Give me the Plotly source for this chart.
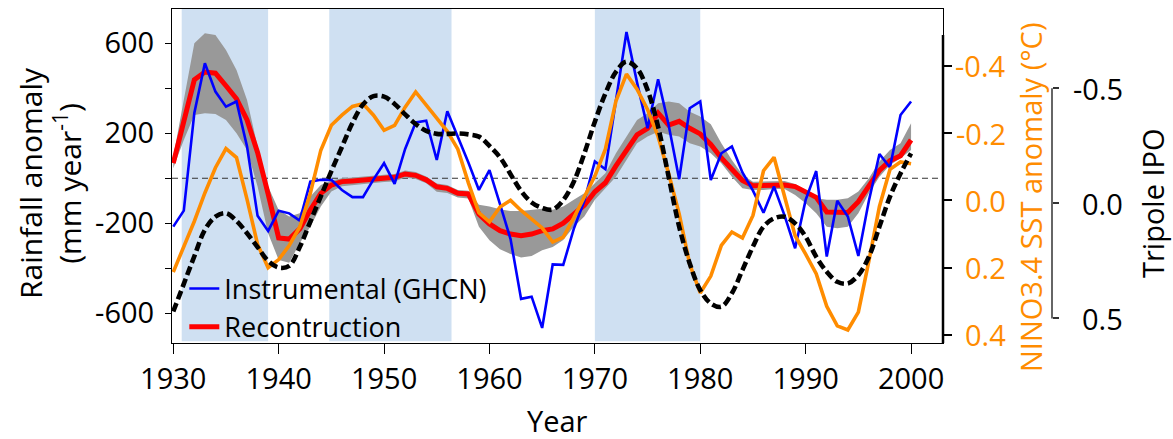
import plotly.graph_objects as go

years = list(range(1930, 2001))

instrumental = [-215, -144, 290, 511, 385, 318, 341, 141, -167, -234,
                -144, -156, -188, -15, -7, -7, -52, -84, -84, -5,
                67, -25, 130, 248, 256, 81, 298, 185, 70, -52,
                36, -115, -270, -536, -526, -665, -383, -385, -225, -100,
                75, 40, 335, 650, 426, 222, 440, 237, -4, 311,
                341, -8, 111, 141, 26, -55, -153, -37, -166, -311,
                -96, 32, -348, -100, -170, -345, -100, 108, 48, 281,
                341]

reconstruction = [67, 255, 438, 472, 467, 411, 353, 259, 115, -70,
                  -265, -270, -225, -141, -67, -30, -15, -12, -7, -3,
                  0, 4, 19, 13, -7, -38, -45, -67, -70, -160,
                  -203, -233, -248, -255, -248, -233, -225, -200, -160, -120,
                  -60, -20, 55, 120, 193, 222, 290, 236, 253, 222,
                  197, 150, 90, 40, -10, -33, -33, -30, -30, -37,
                  -60, -85, -150, -152, -152, -104, -33, 35, 78, 100,
                  170]

recon_upper = [96, 348, 600, 644, 637, 570, 481, 348, 141, -37,
               -141, -170, -156, -81, -30, -10, 0, 3, 8, 12,
               15, 19, 34, 28, 8, -23, -30, -52, -55, -118,
               -125, -138, -146, -146, -141, -135, -140, -126, -96, -67,
               -22, 22, 111, 185, 259, 289, 333, 341, 333, 296,
               274, 240, 156, 81, 15, -15, -15, -12, -12, -25,
               -52, -89, -96, -96, -89, -59, 0, 74, 126, 156,
               244]

recon_lower = [44, 170, 281, 289, 286, 259, 200, 126, -37, -244,
               -363, -375, -289, -215, -126, -59, -35, -30, -25, -20,
               -17, -14, 3, -3, -22, -60, -65, -85, -90, -215,
               -275, -315, -337, -352, -345, -320, -305, -274, -215, -170,
               -96, -44, 7, 81, 156, 185, 207, 193, 185, 156,
               141, 111, 67, 7, -44, -52, -52, -48, -48, -74,
               -111, -156, -215, -222, -215, -156, -67, 7, 59, 89,
               126]

nino34 = [0.213, 0.139, 0.062, -0.022, -0.097, -0.154, -0.127, -0.003, 0.131, 0.200,
          0.176, 0.134, 0.079, -0.020, -0.149, -0.223, -0.253, -0.279, -0.287, -0.253,
          -0.208, -0.223, -0.277, -0.322, -0.282, -0.243, -0.205, -0.152, -0.052, 0.037,
          0.064, 0.020, 0.000, 0.030, 0.055, 0.082, 0.124, 0.109, 0.052, -0.008,
          -0.072, -0.152, -0.295, -0.375, -0.330, -0.270, -0.190, -0.080, 0.040, 0.190,
          0.275, 0.225, 0.134, 0.094, 0.112, 0.045, -0.088, -0.128, -0.010, 0.105,
          0.160, 0.218, 0.315, 0.373, 0.385, 0.332, 0.180, 0.018, -0.092, -0.114,
          -0.109]

tripole_ipo = [0.470, 0.350, 0.230, 0.115, 0.058, 0.043, 0.076, 0.130, 0.190, 0.250,
               0.279, 0.272, 0.190, 0.080, -0.030, -0.140, -0.245, -0.350, -0.430, -0.466,
               -0.464, -0.432, -0.387, -0.345, -0.315, -0.302, -0.302, -0.304, -0.300, -0.290,
               -0.250, -0.200, -0.127, -0.054, -0.004, 0.020, 0.027, -0.014, -0.094, -0.217,
               -0.355, -0.478, -0.572, -0.616, -0.587, -0.493, -0.333, -0.116, 0.101, 0.261,
               0.377, 0.435, 0.449, 0.391, 0.290, 0.188, 0.101, 0.065, 0.058, 0.087,
               0.145, 0.232, 0.297, 0.341, 0.348, 0.312, 0.232, 0.101, -0.029, -0.130,
               -0.217]

shaded_periods = [(1930.8, 1939.0), (1944.8, 1956.4), (1970.0, 1980.0)]

rain_ticks = [-600, -200, 200, 600]
rain_ticktext = ["-600", "-200", "200", "600"]
rain_minor_ticks = [-400, 0, 400]
nino_ticks = [-0.4, -0.2, 0.0, 0.2, 0.4]
ipo_ticks = [-0.5, 0.0, 0.5]
year_ticks = [1930, 1940, 1950, 1960, 1970, 1980, 1990, 2000]

FONT = "Open Sans"
ORANGE = "#FF8C00"
FS = 29

fig = go.Figure()

fig.add_trace(go.Scatter(x=years, y=recon_lower, mode="lines", line=dict(width=0, color="#999999"),
                         showlegend=False, hoverinfo="skip"))
fig.add_trace(go.Scatter(x=years, y=recon_upper, mode="lines", line=dict(width=0, color="#999999"),
                         fill="tonexty", fillcolor="#999999", showlegend=False, hoverinfo="skip"))
fig.add_trace(go.Scatter(x=years, y=reconstruction, mode="lines", name="Recontruction",
                         line=dict(color="#FF0000", width=5), legendrank=2))
fig.add_trace(go.Scatter(x=years, y=instrumental, mode="lines", name="Instrumental (GHCN)",
                         line=dict(color="#0000FF", width=2.6), legendrank=1))
fig.add_trace(go.Scatter(x=years, y=nino34, mode="lines", yaxis="y2", showlegend=False,
                         line=dict(color=ORANGE, width=3.6)))
fig.add_trace(go.Scatter(x=years, y=tripole_ipo, mode="lines", yaxis="y3", showlegend=False,
                         line=dict(color="#000000", width=4.6, dash="9px,4px", shape="spline",
                                   smoothing=1.0)))

shapes = []
for a, b in shaded_periods:
    shapes.append(dict(type="rect", xref="x", yref="paper", x0=a, x1=b, y0=0.005, y1=1,
                       fillcolor="#CFE0F2", line=dict(width=0), layer="below"))
shapes.append(dict(type="line", xref="x domain", yref="y", x0=0, x1=1, y0=0, y1=0,
                   line=dict(color="#333333", width=1, dash="6px,4px"), layer="below"))
# NINO3.4 axis spine (spans only part of the height) and tripole IPO spine
shapes.append(dict(type="line", xref="paper", yref="paper", x0=771 / 880, x1=771 / 880,
                   y0=0, y1=0.922, line=dict(color="#000000", width=2.5)))
shapes.append(dict(type="line", xref="paper", yref="y3", x0=1.0, x1=1.0, y0=-0.5, y1=0.5,
                   line=dict(color="#333333", width=1.5)))

annotations = []
for v in nino_ticks:
    annotations.append(dict(x=(1008 - 172) / 880, y=v, xref="paper", yref="y2", text=f"{v:.1f}",
                            showarrow=False, xanchor="right", yanchor="middle",
                            font=dict(family=FONT, size=FS, color=ORANGE)))
for v in ipo_ticks:
    annotations.append(dict(x=(1125 - 172) / 880, y=v, xref="paper", yref="y3", text=f"{v:.1f}",
                            showarrow=False, xanchor="right", yanchor="middle",
                            font=dict(family=FONT, size=FS, color="#000000")))
annotations.append(dict(x=(50 - 172) / 880, y=(343 - 183) / 334, xref="paper", yref="paper",
                        text="Rainfall anomaly<br>(mm year<sup>-1</sup>)", textangle=-90,
                        showarrow=False, xanchor="center", yanchor="middle",
                        font=dict(family=FONT, size=30, color="#000000")))
annotations.append(dict(x=(1030 - 172) / 880, y=(343 - 198) / 334, xref="paper", yref="paper",
                        text="NINO3.4 SST anomaly (°C)", textangle=-90,
                        showarrow=False, xanchor="center", yanchor="middle",
                        font=dict(family=FONT, size=FS, color=ORANGE)))
annotations.append(dict(x=(1152 - 172) / 880, y=(343 - 203) / 334, xref="paper", yref="paper",
                        text="Tripole IPO", textangle=-90,
                        showarrow=False, xanchor="center", yanchor="middle",
                        font=dict(family=FONT, size=FS, color="#000000")))
annotations.append(dict(x=(557 - 172) / 880, y=(343 - 420) / 334, xref="paper", yref="paper",
                        text="Year", showarrow=False, xanchor="center", yanchor="middle",
                        font=dict(family=FONT, size=FS, color="#000000")))

fig.update_layout(
    width=1173, height=439,
    margin=dict(l=172, r=121, t=9, b=96, pad=0),
    paper_bgcolor="white", plot_bgcolor="rgba(0,0,0,0)",
    font=dict(family=FONT, size=FS, color="#000000"),
    showlegend=True,
    legend=dict(x=0.014, y=0.235, xanchor="left", yanchor="top", bgcolor="rgba(0,0,0,0)",
                font=dict(family=FONT, size=27), traceorder="normal", borderwidth=0,
                tracegroupgap=0),
    xaxis=dict(domain=[0, 771 / 880], range=[1929.88, 2003.03], tickvals=year_ticks,
               ticks="outside", ticklen=10, tickwidth=1, tickcolor="#000000",
               showline=True, linecolor="#000000", linewidth=1, mirror=True,
               showgrid=False, zeroline=False, tickfont=dict(size=FS)),
    yaxis=dict(range=[-732, 752], tickvals=rain_ticks, ticktext=rain_ticktext,
               ticks="outside", ticklen=6, tickwidth=1, tickcolor="#000000",
               minor=dict(tickvals=rain_minor_ticks, ticks="outside", ticklen=6,
                          tickwidth=1, tickcolor="#000000", showgrid=False),
               showline=True, linecolor="#000000", linewidth=1, mirror=True,
               showgrid=False, zeroline=False, tickfont=dict(size=FS), ticklabelstandoff=5),
    yaxis2=dict(overlaying="y", side="right", anchor="x", range=[0.4238, -0.5685],
                tickvals=nino_ticks, ticks="outside", ticklen=8, tickwidth=1.5, tickcolor="#000000",
                showticklabels=False, showline=False, showgrid=False, zeroline=False),
    yaxis3=dict(overlaying="y", side="right", anchor="free", position=1.0, range=[0.607, -0.845],
                tickvals=ipo_ticks, ticks="outside", ticklen=6, tickwidth=1.5, tickcolor="#333333",
                showticklabels=False, showline=False, showgrid=False, zeroline=False),
    shapes=shapes,
    annotations=annotations,
)

fig.write_html("out.html")
